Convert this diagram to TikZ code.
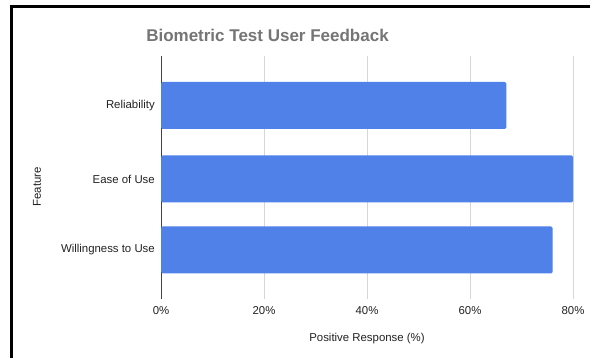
\documentclass[tikz,border=0pt]{standalone}
\usepackage{fontspec}
\setmainfont{Liberation Sans}
\usetikzlibrary{positioning}
\definecolor{cbar}{HTML}{4F81E9}
\definecolor{cgrid}{HTML}{D6D6D6}
\definecolor{ctitle}{HTML}{757575}
\definecolor{ctext}{HTML}{222222}
\tikzset{
  every picture/.style={x=1pt, y=-1pt},
  border/.style={draw=black, line width=2.5pt},
  charttitle/.style={font=\fontsize{17}{20}\selectfont\bfseries, text=ctitle},
  gridline/.style={draw=cgrid, line width=0.9pt},
  zeroline/.style={draw=ctext!85, line width=0.9pt},
  hbar/.style={fill=cbar, rounded corners=1.5pt, minimum height=47pt, inner sep=0pt},
  ticklabel/.style={font=\fontsize{11.4}{13}\selectfont, text=ctext},
  catlabel/.style={font=\fontsize{11.4}{13}\selectfont, text=ctext, anchor=east},
  axistitle/.style={font=\fontsize{11.4}{13}\selectfont, text=ctext},
}

\begin{document}
\begin{tikzpicture}[every node/.style={inner sep=0pt}]
  \useasboundingbox (0,0) rectangle (590,358);
  \fill[white] (0,0) rectangle (590,358);
  % window edge
  \draw[border] (11.5,358) -- (11.5,6.5) -- (590,6.5);
  \node[charttitle] (ttl) at (267.5,35) {Biometric Test User Feedback};
  % grid and ticks
  \foreach \p [count=\i from 0] in {0,20,40,60,80} {
    \draw[gridline] (161+\i*103,56) -- (161+\i*103,299);
    \node[ticklabel] (t\i) at (161+\i*103,311) {\p\%};
  }
  \draw[zeroline] (161,56) -- (161,299);
  % bars
  \foreach \v/\y/\name [count=\i] in {67/105.5/Reliability, 80/179/Ease of Use, 76/250/Willingness to Use} {
    \node[hbar, minimum width=\v*5.15pt, anchor=west] (b\i) at (161,\y) {};
    \node[catlabel, left=6pt of b\i.west] (c\i) {\name};
  }
  \node[axistitle] (xt) at (367,339) {Positive Response (\%)};
  \node[axistitle, rotate=90] (yt) at (37,187) {Feature};
\end{tikzpicture}
\end{document}
